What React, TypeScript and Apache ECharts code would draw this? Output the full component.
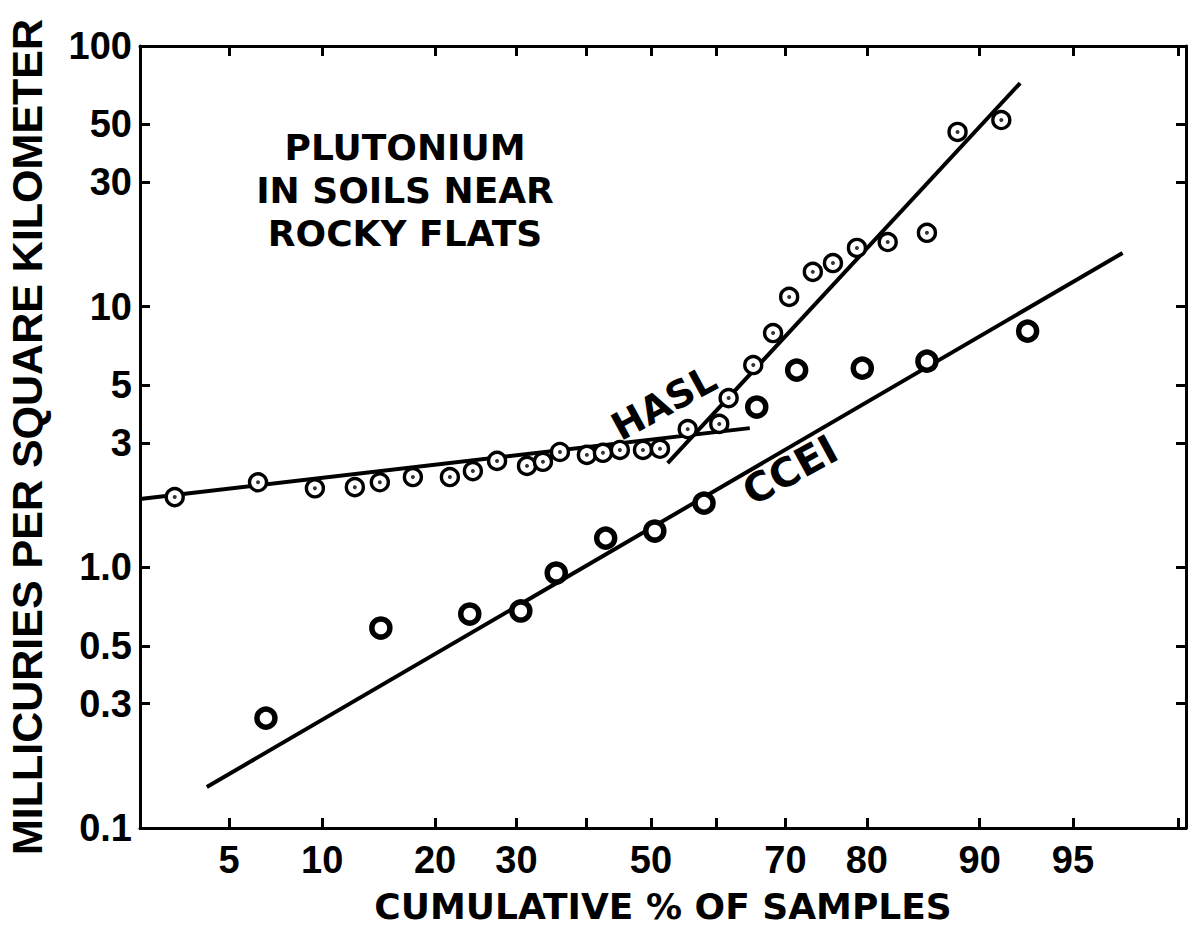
import React, { useEffect, useRef } from "react";
import * as echarts from "echarts";

// ---- axis definitions ----
const xTickPercents = [5, 10, 20, 30, 40, 50, 60, 70, 80, 90, 95, 98];
const xLabelPercents = [5, 10, 20, 30, 50, 70, 80, 90, 95];
const xAxisMinPercent = 2.32;
const xAxisMaxPercent = 98.15;
const yTickValues = [0.1, 0.3, 0.5, 1, 3, 5, 10, 30, 50, 100];
const yTickLabels = ["0.1", "0.3", "0.5", "1.0", "3", "5", "10", "30", "50", "100"];

// ---- HASL samples (cumulative %, mCi/km²) ----
const haslPercent = [3.17, 6.28, 9.51, 12.42, 14.53, 17.67, 21.66, 24.38, 27.43, 31.45, 33.69, 36.14, 40.14, 42.58, 45.18, 48.76, 51.4, 55.7, 60.5, 61.9, 65.5, 68.3, 70.5, 73.6, 76.1, 78.9, 82.2, 85.9, 88.4, 91.4];
const haslValue = [1.86, 2.12, 2.01, 2.03, 2.12, 2.22, 2.22, 2.34, 2.56, 2.45, 2.54, 2.77, 2.7, 2.75, 2.82, 2.82, 2.85, 3.39, 3.55, 4.46, 5.97, 7.92, 10.9, 13.6, 14.7, 16.8, 17.7, 19.2, 46.8, 52.0];

// ---- CCEI samples ----
const cceiPercent = [6.67, 14.62, 24.0, 30.6, 35.6, 43.0, 50.6, 58.2, 66.0, 71.5, 79.5, 85.9, 92.9];
const cceiValue = [0.264, 0.585, 0.662, 0.68, 0.951, 1.295, 1.378, 1.764, 4.12, 5.71, 5.81, 6.18, 8.06];

// ---- fitted lines (end points) ----
const haslLowFitPercent = [2.32, 65.0];
const haslLowFitValue = [1.83, 3.42];
const haslHighFitPercent = [52.6, 92.5];
const haslHighFitValue = [2.51, 72.1];
const cceiFitPercent = [4.17, 96.7];
const cceiFitValue = [0.1436, 16.06];

// inverse standard normal CDF (Acklam)
function probit(p: number): number {
  const a = [-3.969683028665376e1, 2.209460984245205e2, -2.759285104469687e2, 1.38357751867269e2, -3.066479806614716e1, 2.506628277459239];
  const b = [-5.447609879822406e1, 1.615858368580409e2, -1.556989798598866e2, 6.680131188771972e1, -1.328068155288572e1];
  const c = [-7.784894002430293e-3, -3.223964580411365e-1, -2.400758277161838, -2.549732539343734, 4.374664141464968, 2.938163982698783];
  const d = [7.784695709041462e-3, 3.224671290700398e-1, 2.445134137142996, 3.754408661907416];
  const pl = 0.02425;
  if (p < pl) {
    const q = Math.sqrt(-2 * Math.log(p));
    return (((((c[0] * q + c[1]) * q + c[2]) * q + c[3]) * q + c[4]) * q + c[5]) / ((((d[0] * q + d[1]) * q + d[2]) * q + d[3]) * q + 1);
  }
  if (p > 1 - pl) {
    const q = Math.sqrt(-2 * Math.log(1 - p));
    return -(((((c[0] * q + c[1]) * q + c[2]) * q + c[3]) * q + c[4]) * q + c[5]) / ((((d[0] * q + d[1]) * q + d[2]) * q + d[3]) * q + 1);
  }
  const q = p - 0.5;
  const r = q * q;
  return ((((((a[0] * r + a[1]) * r + a[2]) * r + a[3]) * r + a[4]) * r + a[5]) * q) / (((((b[0] * r + b[1]) * r + b[2]) * r + b[3]) * r + b[4]) * r + 1);
}

const px = (p: number) => probit(p / 100);
const ly = (v: number) => Math.log10(v);
const pairs = (ps: number[], vs: number[]) => ps.map((p, i) => [px(p), ly(vs[i])]);

const NUM_FONT = "Liberation Sans";
const TXT_FONT = "DejaVu Sans";

export default function App() {
  const ref = useRef<HTMLDivElement>(null);
  useEffect(() => {
    if (!ref.current) return;
    const chart = echarts.init(ref.current, null, { renderer: "svg" });
    const xLabelZ = xLabelPercents.map(px);
    const xTickZ = xTickPercents.map(px);
    const yZ = yTickValues.map(ly);
    const xFmt = (v: number) => {
      const i = xLabelZ.findIndex((z) => Math.abs(z - v) < 1e-4);
      return i >= 0 ? String(xLabelPercents[i]) : "";
    };
    const yFmt = (v: number) => {
      const i = yZ.findIndex((z) => Math.abs(z - v) < 1e-4);
      return i >= 0 ? yTickLabels[i] : "";
    };
    const axisLine = { onZero: false, lineStyle: { color: "#000", width: 3 } };
    const tick = { inside: true, length: 10, lineStyle: { color: "#000", width: 3 } };
    const xMin = px(xAxisMinPercent);
    const xMax = px(xAxisMaxPercent);
    const option: any = {
      animation: false,
      backgroundColor: "#fff",
      grid: { left: 140, right: 7, top: 46, bottom: 104, containLabel: false, outerBoundsMode: "none" },
      xAxis: [
        {
          type: "value",
          min: xMin,
          max: xMax,
          position: "bottom",
          splitLine: { show: false },
          axisLine,
          axisTick: { ...tick, customValues: xTickZ },
          axisLabel: {
            customValues: xLabelZ,
            formatter: xFmt,
            color: "#000",
            fontFamily: NUM_FONT,
            fontWeight: "bold",
            fontSize: 38,
            margin: 13,
          },
          name: "CUMULATIVE % OF SAMPLES",
          nameLocation: "middle",
          nameGap: 60,
          nameTextStyle: { color: "#000", fontFamily: TXT_FONT, fontWeight: "bold", fontSize: 36 },
        },
        {
          type: "value",
          min: xMin,
          max: xMax,
          position: "top",
          splitLine: { show: false },
          axisLine,
          axisTick: { ...tick, customValues: xTickZ },
          axisLabel: { show: false },
        },
      ],
      yAxis: [
        {
          type: "value",
          min: -1,
          max: 2,
          position: "left",
          splitLine: { show: false },
          axisLine,
          axisTick: { ...tick, customValues: yZ },
          axisLabel: {
            customValues: yZ,
            formatter: yFmt,
            color: "#000",
            fontFamily: NUM_FONT,
            fontWeight: "bold",
            fontSize: 38,
            margin: 8,
          },
          name: "MILLICURIES PER SQUARE KILOMETER",
          nameLocation: "middle",
          nameGap: 92,
          nameTextStyle: { color: "#000", fontFamily: NUM_FONT, fontWeight: "bold", fontSize: 43 },
        },
        {
          type: "value",
          min: -1,
          max: 2,
          position: "right",
          splitLine: { show: false },
          axisLine,
          axisTick: { ...tick, customValues: yZ },
          axisLabel: { show: false },
        },
      ],
      series: [
        {
          name: "HASL fit (low)",
          type: "line",
          data: pairs(haslLowFitPercent, haslLowFitValue),
          symbol: "none",
          lineStyle: { color: "#000", width: 4 },
          z: 2,
        },
        {
          name: "HASL fit (high)",
          type: "line",
          data: pairs(haslHighFitPercent, haslHighFitValue),
          symbol: "none",
          lineStyle: { color: "#000", width: 4 },
          z: 2,
        },
        {
          name: "CCEI fit",
          type: "line",
          data: pairs(cceiFitPercent, cceiFitValue),
          symbol: "none",
          lineStyle: { color: "#000", width: 4 },
          z: 2,
        },
        {
          name: "HASL",
          type: "scatter",
          data: pairs(haslPercent, haslValue),
          symbol: "circle",
          symbolSize: 17,
          itemStyle: { color: "#fff", borderColor: "#000", borderWidth: 3.4, opacity: 1 },
          z: 3,
        },
        {
          name: "HASL centre",
          type: "scatter",
          data: pairs(haslPercent, haslValue),
          symbol: "circle",
          symbolSize: 4,
          itemStyle: { color: "#000" },
          z: 4,
        },
        {
          name: "CCEI",
          type: "scatter",
          data: pairs(cceiPercent, cceiValue),
          symbol: "circle",
          symbolSize: 18,
          itemStyle: { color: "#fff", borderColor: "#000", borderWidth: 5.5, opacity: 1 },
          z: 3,
        },
      ],
      graphic: [
        {
          type: "text",
          x: 405,
          y: 190,
          style: {
            text: "PLUTONIUM\nIN SOILS NEAR\nROCKY FLATS",
            fill: "#000",
            font: `bold 36px "${TXT_FONT}"`,
            lineHeight: 43,
            textAlign: "center",
            textVerticalAlign: "middle",
          },
        },
        {
          type: "text",
          x: 664,
          y: 403,
          rotation: 0.5,
          style: {
            text: "HASL",
            fill: "#000",
            font: `bold 38px "${TXT_FONT}"`,
            textAlign: "center",
            textVerticalAlign: "middle",
          },
        },
        {
          type: "text",
          x: 790,
          y: 470,
          rotation: 0.5,
          style: {
            text: "CCEI",
            fill: "#000",
            font: `bold 40px "${TXT_FONT}"`,
            textAlign: "center",
            textVerticalAlign: "middle",
          },
        },
      ],
    };
    chart.setOption(option);
    return () => chart.dispose();
  }, []);
  return <div ref={ref} style={{ position: "absolute", left: 0, top: 0, width: 1193, height: 932 }} />;
}
